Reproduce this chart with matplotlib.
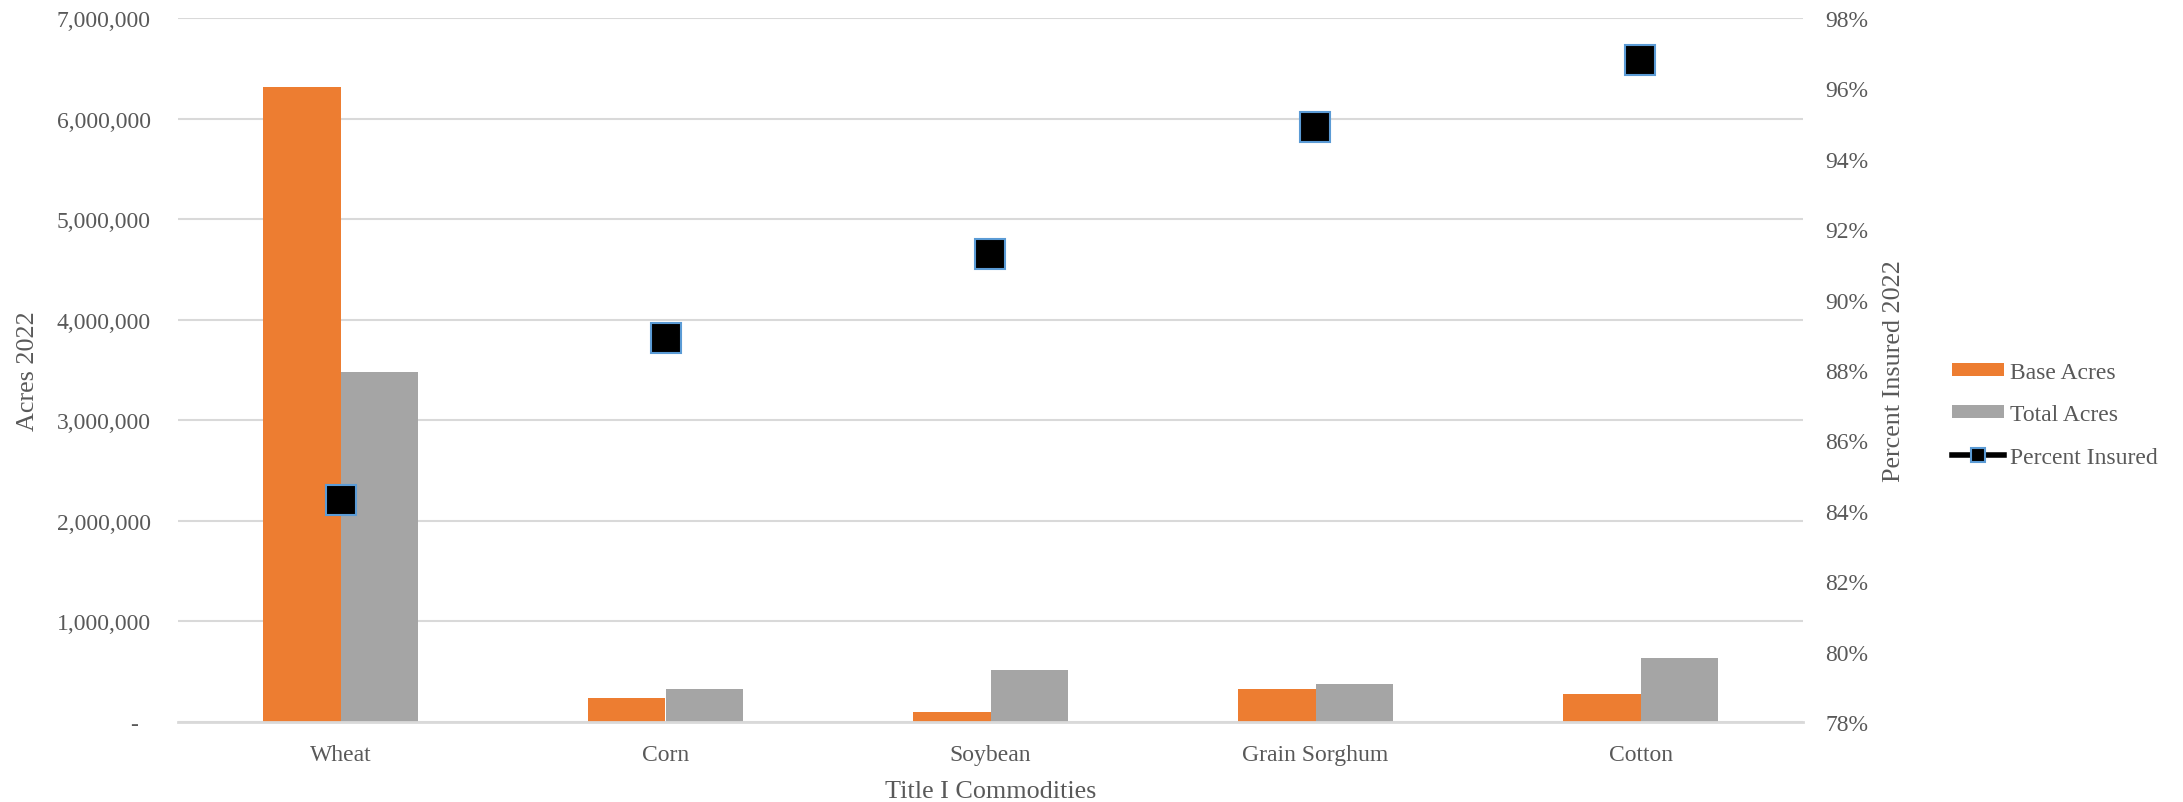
import numpy as np
import matplotlib
matplotlib.use("Agg")
import matplotlib.pyplot as plt
from matplotlib.lines import Line2D
from matplotlib.patches import Patch
from matplotlib.ticker import FuncFormatter, MultipleLocator

# Data
commodities = ["Wheat", "Corn", "Soybean", "Grain Sorghum", "Cotton"]
base_acres = [6310000, 236000, 103000, 327000, 278000]
total_acres = [3485000, 325000, 520000, 381000, 635000]
percent_insured = [0.843, 0.889, 0.913, 0.949, 0.968]

text_color = "#595959"
grid_color = "#D9D9D9"
orange = "#ED7D31"
gray = "#A5A5A5"

plt.rcParams["font.family"] = ["Liberation Serif", "DejaVu Serif"]

W, H = 2183, 803
fig = plt.figure(figsize=(W / 100, H / 100), dpi=100)

# plot area in pixels: left 178, right 1803, top 19, bottom 723
left, right, top, bottom = 178, 1803, 19, 723
ax = fig.add_axes([left / W, 1 - bottom / H, (right - left) / W, (bottom - top) / H])

x = np.arange(len(commodities))
bw = 0.237
ax.bar(x - bw / 2, base_acres, width=bw, color=orange, zorder=2)
ax.bar(x + bw / 2, total_acres, width=bw, color=gray, zorder=2)

ax.set_xlim(-0.5, len(commodities) - 0.5)
ax.set_ylim(0, 7000000)
ax.yaxis.set_major_locator(MultipleLocator(1000000))


def acres_fmt(v, pos):
    if abs(v) < 1:
        return "-  "
    return f"{v:,.0f}"


ax.yaxis.set_major_formatter(FuncFormatter(acres_fmt))
ax.yaxis.grid(True, color=grid_color, linewidth=1.5)
ax.set_axisbelow(True)
for s in ["top", "left", "right"]:
    ax.spines[s].set_visible(False)
ax.spines["bottom"].set_color(grid_color)
ax.spines["bottom"].set_linewidth(2)

ax.set_xticks(x)
ax.set_xticklabels(commodities)
ax.tick_params(axis="x", length=0, pad=16, labelsize=17, labelcolor=text_color)
ax.tick_params(axis="y", length=0, pad=19.5, labelsize=17, labelcolor=text_color)

# Percent insured on the secondary axis
ax2 = ax.twinx()
ax2.plot(x, percent_insured, linestyle="none", marker="s", markersize=21,
         markerfacecolor="black", markeredgecolor="#5B9BD5", markeredgewidth=1.5,
         zorder=3)
ax2.set_ylim(0.78, 0.98)
ax2.yaxis.set_major_locator(MultipleLocator(0.02))
ax2.yaxis.set_major_formatter(FuncFormatter(lambda v, p: f"{v * 100:.0f}%"))
for s in ["top", "left", "right", "bottom"]:
    ax2.spines[s].set_visible(False)
ax2.tick_params(axis="y", length=0, pad=16, labelsize=17, labelcolor=text_color)

# Axis titles
fig.text((left + right) / 2 / W, 1 - 798 / H, "Title I Commodities",
         ha="center", va="baseline", fontsize=18.8, color=text_color)
fig.text(28.5 / W, 1 - 371 / H, "Acres 2022", rotation=90,
         ha="center", va="center", fontsize=18.8, color=text_color)
fig.text(1894 / W, 1 - 371 / H, "Percent Insured 2022", rotation=90,
         ha="center", va="center", fontsize=18.8, color=text_color)

# Legend
handles = [
    Patch(facecolor=orange, edgecolor="none"),
    Patch(facecolor=gray, edgecolor="none"),
    Line2D([0], [0], color="black", linewidth=4, marker="s", markersize=10,
           markerfacecolor="black", markeredgecolor="#5B9BD5", markeredgewidth=1.5),
]
labels = ["Base Acres", "Total Acres", "Percent Insured"]
fig.legend(handles, labels, loc="upper left", bbox_to_anchor=(1952 / W, 1 - 363 / H),
           frameon=False, borderpad=0, borderaxespad=0, fontsize=17,
           handlelength=2.2, handleheight=0.47, handletextpad=0.25,
           labelspacing=0.9, labelcolor=text_color)

fig.savefig("out.png", dpi=100)
